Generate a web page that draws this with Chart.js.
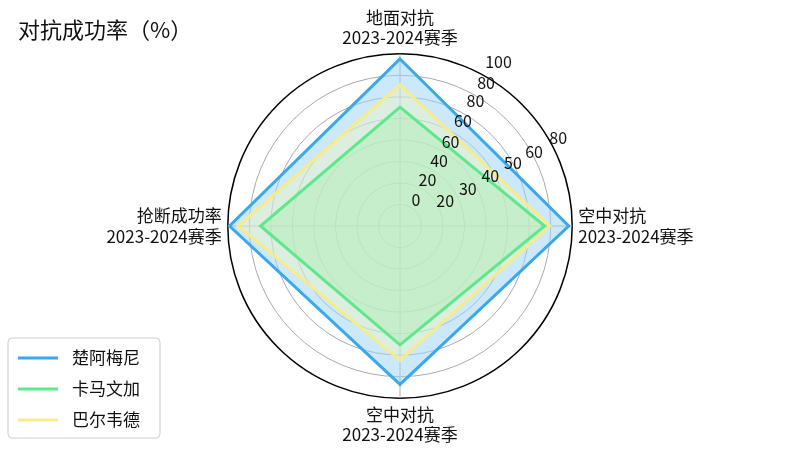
<!DOCTYPE html>
<html>
<head>
<meta charset="utf-8">
<script src="https://cdn.jsdelivr.net/npm/chart.js@4.4.0/dist/chart.umd.min.js"></script>
<style>
  html, body { margin: 0; padding: 0; background: #fff; }
  #wrap { width: 800px; height: 450px; }
</style>
</head>
<body>
<div id="wrap"><canvas id="c" width="800" height="450"></canvas></div>
<script>
// ─── DATA ─────────────────────────────────────────────
const TITLE = '对抗成功率（%）';
const CATEGORIES = [
  ['地面对抗', '2023-2024赛季'],
  ['空中对抗', '2023-2024赛季'],
  ['空中对抗', '2023-2024赛季'],
  ['抢断成功率', '2023-2024赛季'],
];
const SERIES_NAMES = ['楚阿梅尼', '卡马文加', '巴尔韦德'];
const CHOUAMENI  = [97, 98, 92, 99];
const CAMAVINGA  = [69, 84, 69, 81];
const VALVERDE   = [82, 87, 78, 94];
// overlaid axis tick labels: angle (deg, clockwise from north), scale position, text
const TICKS_A_POS  = [18, 31, 44, 57, 71, 85, 97, 111];
const TICKS_A_TEXT = ['0', '20', '40', '60', '60', '80', '80', '100'];
const TICKS_A_ANGLE = 31;
const TICKS_B_POS  = [30, 45, 60, 75, 89, 105];
const TICKS_B_TEXT = ['20', '30', '40', '50', '60', '80'];
const TICKS_B_ANGLE = 61;

const COLORS = ['#3aa8ea', '#5ee88c', '#f6ec8c'];
const FILLS  = ['rgba(160,215,248,0.55)', 'rgba(175,240,175,0.45)', 'rgba(250,248,175,0.35)'];
const ORDERS = [3, 1, 2];
const FONT = '"Noto Sans CJK SC", "DejaVu Sans", sans-serif';

// ─── PLUGINS ──────────────────────────────────────────
const extras = {
  id: 'extras',
  afterDraw(chart) {
    const ctx = chart.ctx;
    const r = chart.scales.r;
    ctx.save();
    // title
    ctx.fillStyle = '#111';
    ctx.font = '22px ' + FONT;
    ctx.textBaseline = 'middle';
    ctx.textAlign = 'left';
    ctx.fillText(TITLE, 18, 30);
    // tick labels
    ctx.font = '16px ' + FONT;
    ctx.textAlign = 'center';
    const drawSet = (pos, text, deg) => {
      const a = (deg - 90) * Math.PI / 180;
      pos.forEach((v, i) => {
        const d = r.getDistanceFromCenterForValue(v);
        ctx.fillText(text[i], r.xCenter + d * Math.cos(a), r.yCenter + d * Math.sin(a));
      });
    };
    drawSet(TICKS_A_POS, TICKS_A_TEXT, TICKS_A_ANGLE);
    drawSet(TICKS_B_POS, TICKS_B_TEXT, TICKS_B_ANGLE);
    // legend
    const x0 = 8, y0 = 338, w = 152, h = 100;
    ctx.fillStyle = 'rgba(255,255,255,0.85)';
    ctx.strokeStyle = '#ccc';
    ctx.lineWidth = 1;
    ctx.beginPath(); ctx.roundRect(x0, y0, w, h, 4); ctx.fill(); ctx.stroke();
    ctx.font = '17px ' + FONT;
    ctx.textAlign = 'left';
    chart.data.datasets.forEach((ds, i) => {
      const y = y0 + 20 + i * 31;
      ctx.strokeStyle = ds.borderColor;
      ctx.lineWidth = 3;
      ctx.beginPath(); ctx.moveTo(x0 + 10, y); ctx.lineTo(x0 + 50, y); ctx.stroke();
      ctx.fillStyle = '#111';
      ctx.fillText(ds.label, x0 + 64, y);
    });
    ctx.restore();
  }
};

const seriesData = [CHOUAMENI, CAMAVINGA, VALVERDE];

new Chart(document.getElementById('c').getContext('2d'), {
  type: 'radar',
  data: {
    labels: CATEGORIES,
    datasets: SERIES_NAMES.map((name, i) => ({
      label: name,
      data: seriesData[i],
      borderColor: COLORS[i],
      backgroundColor: FILLS[i],
      borderWidth: 3,
      fill: true,
      order: ORDERS[i],
      pointRadius: 0,
      tension: 0,
    })),
  },
  options: {
    responsive: false,
    animation: false,
    layout: { padding: { top: 8, bottom: 4 } },
    plugins: { legend: { display: false }, tooltip: { enabled: false } },
    scales: {
      r: {
        min: 0,
        max: 100,
        ticks: { stepSize: 12.5, display: false },
        grid: {
          circular: true,
          color: (c) => c.index === 8 ? '#000' : '#a8a8b4',
          lineWidth: (c) => c.index === 8 ? 1.5 : 1,
        },
        angleLines: { color: '#a8a8b4' },
        pointLabels: {
          color: '#111',
          padding: 6,
          font: { family: FONT, size: 17 },
        },
      },
    },
  },
  plugins: [extras],
});
</script>
</body>
</html>
